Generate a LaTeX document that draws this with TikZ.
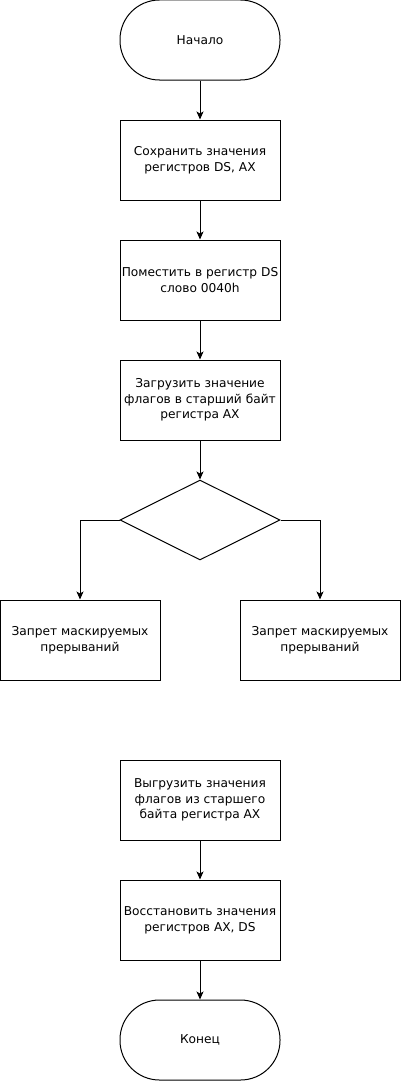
\documentclass[tikz,border=0pt]{standalone}
\usepackage{fontspec}
\setmainfont{DejaVu Sans}
\usetikzlibrary{shapes.geometric, arrows.meta}
\tikzset{
  blk/.style={draw, line width=1pt, minimum width=160pt, minimum height=80pt,
    align=center, inner sep=0pt, font=\fontsize{12.2}{15.7}\selectfont},
  term/.style={blk, rounded corners=39.5pt},
  cond/.style={draw, line width=1pt, diamond, minimum width=160pt, minimum height=80pt,
    inner sep=0pt, aspect=2},
  flow/.style={->, line width=1pt}
}
\begin{document}
\begin{tikzpicture}[>={Stealth[length=8pt, width=7pt, inset=2pt]}, x=1pt, y=-1pt]
    \useasboundingbox (0,0) rectangle (401,1081);
    % Main column
    \node[term] (start) at (200,40) {Начало};
    \node[blk] (save) at (200,160) {Сохранить значения\\регистров DS, AX};
    \node[blk] (setds) at (200,280) {Поместить в регистр DS\\слово 0040h};
    \node[blk] (load) at (200,400) {Загрузить значение\\флагов в старший байт\\регистра AX};
    \node[cond] (check) at (200,520) {};

    % Branches
    \node[blk] (left) at (80,640) {Запрет маскируемых\\прерываний};
    \node[blk] (right) at (320,640) {Запрет маскируемых\\прерываний};

    % Lower column
    \node[blk] (unload) at (200,800) {Выгрузить значения\\флагов из старшего\\байта регистра AX};
    \node[blk] (restore) at (200,920) {Восстановить значения\\регистров AX, DS};
    \node[term] (finish) at (200,1040) {Конец};

    % Connectors
    \draw[flow] (start) -- (save);
    \draw[flow] (save) -- (setds);
    \draw[flow] (setds) -- (load);
    \draw[flow] (load) -- (check);
    \draw[flow] (check.west) -| (left.north);
    \draw[flow] (check.east) -| (right.north);
    \draw[flow] (unload) -- (restore);
    \draw[flow] (restore) -- (finish);
\end{tikzpicture}
\end{document}
